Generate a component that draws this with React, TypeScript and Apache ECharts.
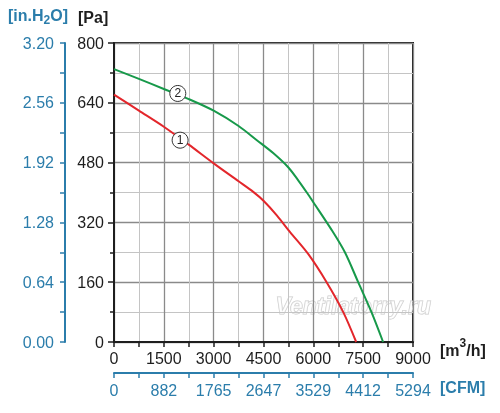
import React, { useEffect, useRef } from "react";
import * as echarts from "echarts";

const flowTicks = [0, 1500, 3000, 4500, 6000, 7500, 9000];
const curve1: [number, number][] = [
  [0, 662], [750, 619], [1500, 576], [2250, 528], [3000, 478], [3750, 430],
  [4200, 401], [4500, 378], [4900, 339], [5300, 294], [5850, 235], [6400, 160],
  [6900, 80], [7290, 0],
];
const curve2: [number, number][] = [
  [0, 730], [750, 704], [1500, 677], [2250, 650], [3000, 619], [3750, 578],
  [4300, 540], [4800, 505], [5250, 467], [5550, 432], [5820, 398], [6000, 374],
  [6550, 300], [6950, 240], [7350, 160], [7750, 80], [8100, 0],
];
const label1: [number, number] = [1990, 540];
const label2: [number, number] = [1920, 665];
const cfmMax = 5294;
const inH2OMax = 3.2;

const BLUE = "#2b7dab";
const DARK = "#1e1e1e";

export default function App() {
  const ref = useRef<HTMLDivElement>(null);
  useEffect(() => {
    if (!ref.current) return;
    const chart = echarts.init(ref.current, undefined, { renderer: "svg" });
    const font = "Liberation Sans, Arial, sans-serif";
    const mark = (coord: [number, number], name: string) => ({
      symbol: "circle",
      symbolSize: 16,
      silent: true,
      itemStyle: { color: "#fff", borderColor: "#333", borderWidth: 1 },
      label: { show: true, position: "inside", formatter: name, color: "#222", fontSize: 12, fontFamily: font },
      data: [{ coord }],
    });
    chart.setOption({
      animation: false,
      grid: { left: 114, top: 43, width: 299, height: 299, show: true, borderColor: DARK, borderWidth: 2, backgroundColor: "transparent" },
      xAxis: [
        {
          type: "value", min: flowTicks[0], max: flowTicks[flowTicks.length - 1], interval: flowTicks[1] - flowTicks[0], position: "bottom",
          axisLine: { show: true, onZero: false, lineStyle: { color: DARK, width: 2 } },
          axisTick: { show: true, length: 5, lineStyle: { color: DARK, width: 1.5 } },
          minorTick: { show: true, splitNumber: 2, length: 5, lineStyle: { color: DARK, width: 1.5 } },
          splitLine: { show: true, lineStyle: { color: "#8a8a8a", width: 1.3 } },
          minorSplitLine: { show: true, lineStyle: { color: "#c4c4c4", width: 1 } },
          axisLabel: { color: DARK, fontSize: 16, fontFamily: font, margin: 8, formatter: (v: number) => String(v) },
        },
        {
          type: "value", min: 0, max: cfmMax, interval: cfmMax / 6, position: "bottom", offset: 31,
          axisLine: { show: true, onZero: false, lineStyle: { color: BLUE, width: 2 } },
          axisTick: { show: true, length: 5, lineStyle: { color: BLUE, width: 1.5 } },
          minorTick: { show: true, splitNumber: 2, length: 5, lineStyle: { color: BLUE, width: 1.5 } },
          splitLine: { show: false },
          axisLabel: { color: BLUE, fontSize: 16, fontFamily: font, margin: 9, formatter: (v: number) => String(Math.round(v)) },
        },
      ],
      yAxis: [
        {
          type: "value", min: 0, max: 800, interval: 160, position: "left",
          axisLine: { show: true, onZero: false, lineStyle: { color: DARK, width: 2 } },
          axisTick: { show: true, length: 6, lineStyle: { color: DARK, width: 1.5 } },
          minorTick: { show: true, splitNumber: 2, length: 4, lineStyle: { color: DARK, width: 1.5 } },
          splitLine: { show: true, lineStyle: { color: "#8a8a8a", width: 1.3 } },
          minorSplitLine: { show: true, lineStyle: { color: "#c4c4c4", width: 1 } },
          axisLabel: { color: DARK, fontSize: 16, fontFamily: font, margin: 10, formatter: (v: number) => String(v) },
        },
        {
          type: "value", min: 0, max: inH2OMax, interval: 0.64, position: "left", offset: 49,
          axisLine: { show: true, onZero: false, lineStyle: { color: BLUE, width: 2 } },
          axisTick: { show: true, length: 5, lineStyle: { color: BLUE, width: 1.5 } },
          minorTick: { show: true, splitNumber: 2, length: 5, lineStyle: { color: BLUE, width: 1.5 } },
          splitLine: { show: false },
          axisLabel: { color: BLUE, fontSize: 16, fontFamily: font, margin: 11, formatter: (v: number) => v.toFixed(2) },
        },
      ],
      series: [
        {
          type: "line", xAxisIndex: 0, yAxisIndex: 0, data: curve1, smooth: 0.3, showSymbol: false,
          lineStyle: { color: "#e3262b", width: 2 }, itemStyle: { color: "#e3262b" },
          markPoint: mark(label1, "1"),
        },
        {
          type: "line", xAxisIndex: 0, yAxisIndex: 0, data: curve2, smooth: 0.3, showSymbol: false,
          lineStyle: { color: "#17994a", width: 2 }, itemStyle: { color: "#17994a" },
          markPoint: mark(label2, "2"),
        },
      ],
      graphic: [
        {
          type: "text", left: 8, top: 7, silent: true,
          style: {
            text: "{a|[in.H}{s|2}{a|O]}",
            rich: {
              a: { fontSize: 16, fontWeight: "bold", fill: BLUE, fontFamily: font },
              s: { fontSize: 12, fontWeight: "bold", fill: BLUE, fontFamily: font, padding: [9, 0, 0, 0] },
            },
          },
        },
        {
          type: "text", left: 78, top: 9, silent: true,
          style: { text: "[Pa]", fontSize: 16, fontWeight: "bold", fill: DARK, fontFamily: font },
        },
        {
          type: "text", left: 440, top: 337, silent: true,
          style: {
            text: "{a|[m}{s|3}{a|/h]}",
            rich: {
              a: { fontSize: 16, fontWeight: "bold", fill: DARK, fontFamily: font, padding: [8, 0, 0, 0] },
              s: { fontSize: 12, fontWeight: "bold", fill: DARK, fontFamily: font, padding: [0, 0, 6, 0] },
            },
          },
        },
        {
          type: "text", left: 440, top: 379, silent: true,
          style: { text: "[CFM]", fontSize: 16, fontWeight: "bold", fill: BLUE, fontFamily: font },
        },
        {
          type: "text", left: 275, top: 294, silent: true,
          style: {
            text: "Ventilatorry.ru", fontSize: 23, fontStyle: "italic", fontWeight: "bold",
            fontFamily: font, fill: "rgba(255,255,255,0.55)", stroke: "#c9c9c9", lineWidth: 1,
          },
        },
      ],
    });
    return () => chart.dispose();
  }, []);
  return <div ref={ref} style={{ position: "fixed", left: 0, top: 0, width: 500, height: 413 }} />;
}
